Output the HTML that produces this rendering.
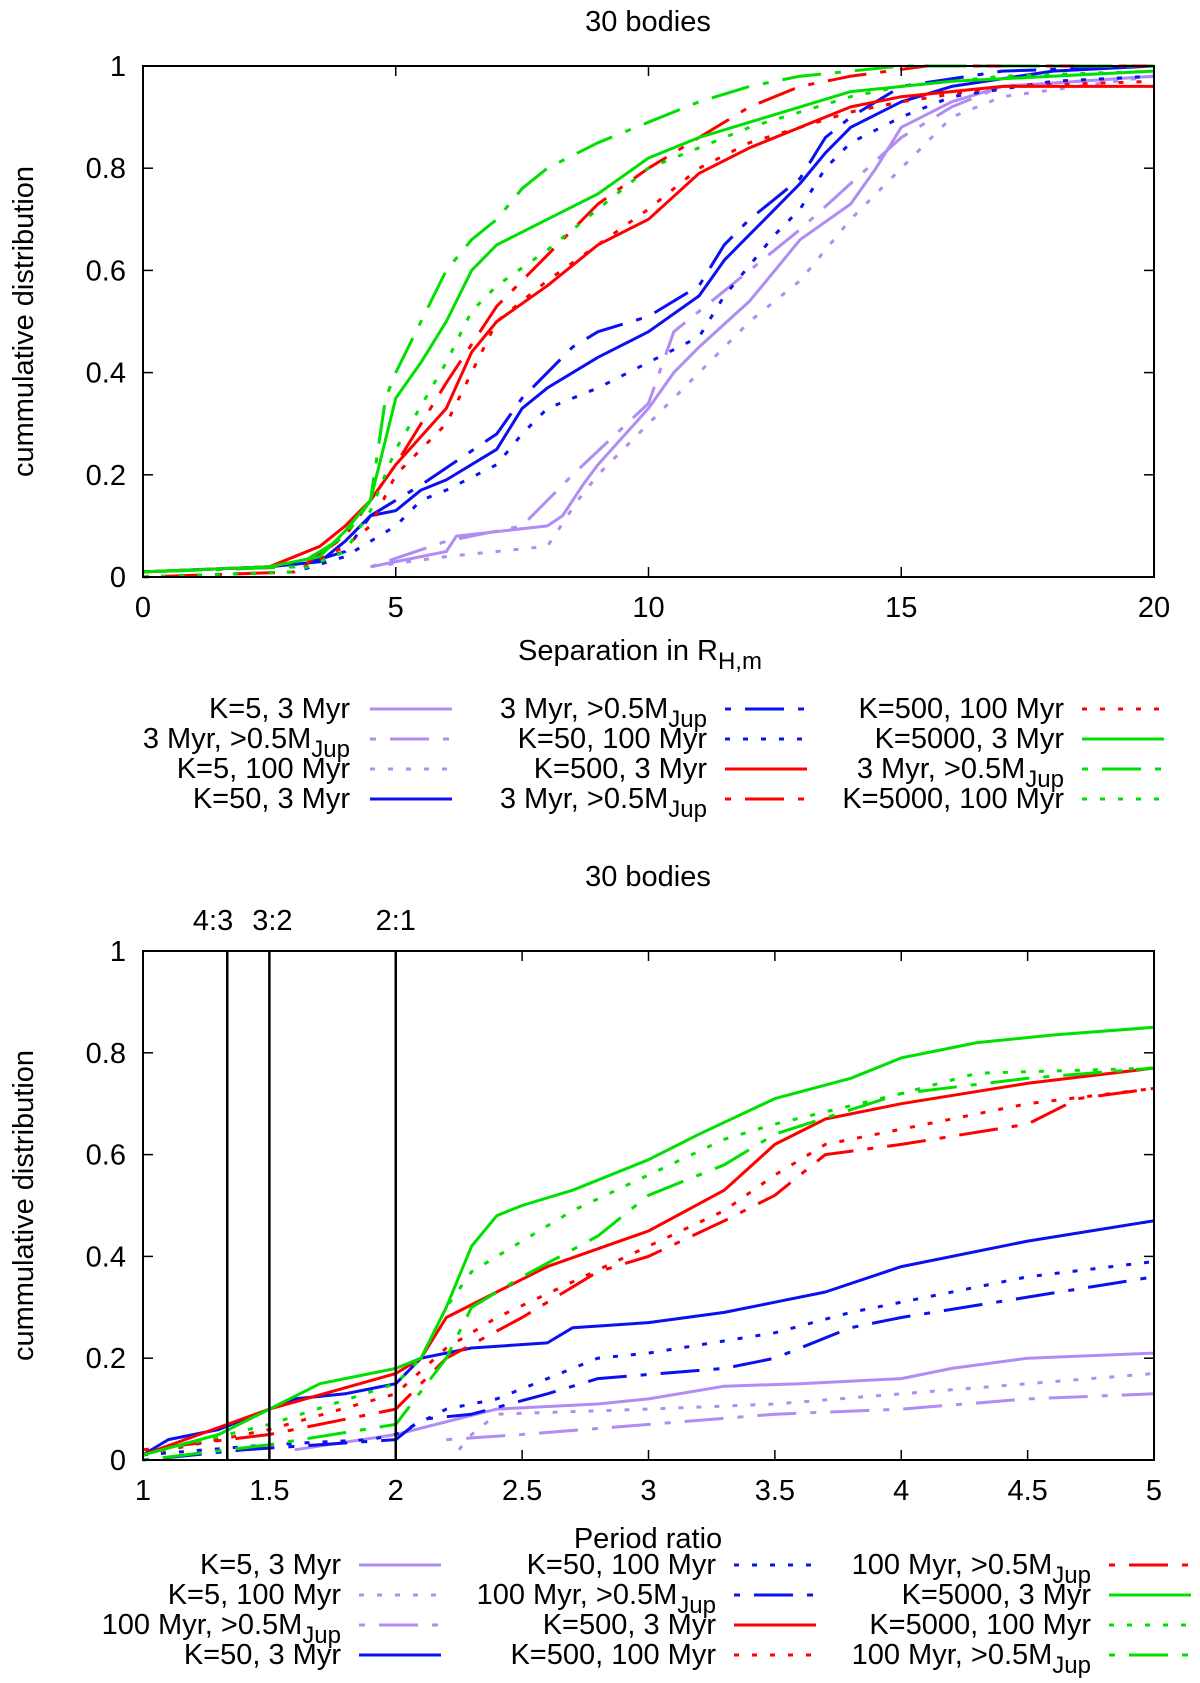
<!DOCTYPE html>
<html><head><meta charset="utf-8"><style>
body{margin:0;background:#fff}
svg{display:block;font-family:"Liberation Sans",sans-serif}
text{fill:#000}
</style></head><body>
<svg id="chart" width="1200" height="1683" viewBox="0 0 1200 1683" xmlns="http://www.w3.org/2000/svg"></svg>
<script>
// ---------- TOP PANEL DATA (separation in R_H,m) ----------
const topXTicks=[0,5,10,15,20];
const topYTicks=[0,0.2,0.4,0.6,0.8,1];
const topYTickLabels=["0","0.2","0.4","0.6","0.8","1"];
const t_p5_3_x=[4.5,6,6.2,8,8.3,8.7,9,10,10.5,11,12,12.5,13,14,14.5,15,16,17,20];
const t_p5_3_y=[0.02,0.05,0.08,0.1,0.12,0.18,0.22,0.33,0.4,0.45,0.54,0.6,0.66,0.73,0.8,0.88,0.93,0.96,0.98];
const t_p5_3m_x=[4.5,6,7.5,8.5,10,10.5,11,12,13,14,15,16,17,20];
const t_p5_3m_y=[0.02,0.07,0.1,0.2,0.34,0.48,0.52,0.6,0.68,0.77,0.86,0.92,0.96,0.98];
const t_p5_100_x=[4.5,6,8,8.6,9,10,11,12,13,14,15,16,17,20];
const t_p5_100_y=[0.02,0.04,0.06,0.15,0.2,0.3,0.4,0.5,0.58,0.7,0.8,0.9,0.94,0.98];
const t_b50_3_x=[0,2.5,3.5,4,4.5,5,5.5,6,7,7.5,8,9,10,11,11.5,12,12.5,13,13.5,14,15,16,18,20];
const t_b50_3_y=[0.01,0.02,0.03,0.07,0.12,0.13,0.17,0.19,0.25,0.33,0.37,0.43,0.48,0.55,0.62,0.67,0.72,0.77,0.83,0.88,0.93,0.96,0.99,1];
const t_b50_3m_x=[0,3,4,4.5,5.5,7,7.5,8,8.5,9,10,11,11.5,12,12.5,13,13.5,14,15,17,20];
const t_b50_3m_y=[0.01,0.02,0.05,0.12,0.18,0.28,0.35,0.4,0.45,0.48,0.51,0.57,0.65,0.7,0.74,0.78,0.86,0.9,0.96,0.99,1];
const t_b50_100_x=[0,3,4,5,5.5,6,7,7.5,8,9,10,11,11.5,12,12.5,13,13.5,14,15,16,18,20];
const t_b50_100_y=[0,0.01,0.04,0.1,0.15,0.17,0.22,0.28,0.33,0.37,0.42,0.47,0.55,0.61,0.67,0.72,0.8,0.85,0.9,0.94,0.97,0.98];
const t_r500_3_x=[0,2.5,3.5,4,4.5,5,6,6.5,7,8,9,10,11,12,13,14,15,17,20];
const t_r500_3_y=[0.01,0.02,0.06,0.1,0.15,0.22,0.33,0.44,0.5,0.57,0.65,0.7,0.79,0.84,0.88,0.92,0.94,0.96,0.96];
const t_r500_3m_x=[0,3,4,4.5,5,6,7,8,9,10,11,12,13,14,15.5,20];
const t_r500_3m_y=[0,0.01,0.08,0.15,0.22,0.38,0.53,0.63,0.73,0.8,0.86,0.92,0.96,0.98,1,1];
const t_r500_100_x=[0,3,4,4.5,5,6,6.5,7,8,9,10,11,12,13,14,15,17,20];
const t_r500_100_y=[0,0.01,0.06,0.1,0.2,0.3,0.4,0.5,0.58,0.65,0.72,0.8,0.85,0.88,0.91,0.93,0.96,0.97];
const t_g5000_3_x=[0,2.5,3.5,4,4.5,5,5.5,6,6.5,7,8,9,10,11,12,13,14,16,20];
const t_g5000_3_y=[0.01,0.02,0.04,0.09,0.15,0.35,0.42,0.5,0.6,0.65,0.7,0.75,0.82,0.86,0.89,0.92,0.95,0.97,0.99];
const t_g5000_3m_x=[0,3,4,4.5,4.8,5,5.5,6,6.5,7,7.5,8,9,10,11,12,13,15,20];
const t_g5000_3m_y=[0.01,0.02,0.08,0.15,0.35,0.4,0.5,0.6,0.66,0.7,0.76,0.8,0.85,0.89,0.93,0.96,0.98,1,1];
const t_g5000_100_x=[0,3,4,4.5,5,6,6.5,7,8,9,10,11,12,13,14,15,17,20];
const t_g5000_100_y=[0,0.01,0.05,0.13,0.25,0.42,0.52,0.57,0.64,0.72,0.8,0.84,0.88,0.91,0.94,0.96,0.98,0.99];

// ---------- BOTTOM PANEL DATA (period ratio) ----------
const botXTicks=[1,1.5,2,2.5,3,3.5,4,4.5,5];
const botXTickLabels=["1","1.5","2","2.5","3","3.5","4","4.5","5"];
const resonances=[4/3,1.5,2];
const resonanceLabels=["4:3","3:2","2:1"];
const b_p5_3_x=[1.6,2,2.4,2.8,3,3.3,3.6,4,4.2,4.5,5];
const b_p5_3_y=[0.02,0.05,0.1,0.11,0.12,0.145,0.15,0.16,0.18,0.2,0.21];
const b_p5_100_x=[2.25,2.3,2.4,3,3.5,4,4.5,5];
const b_p5_100_y=[0.02,0.05,0.09,0.1,0.11,0.13,0.15,0.17];
const b_p5_100m_x=[2.2,2.5,3,3.5,4,4.5,5];
const b_p5_100m_y=[0.04,0.05,0.07,0.09,0.1,0.12,0.13];
const b_b50_3_x=[1,1.1,1.3,1.5,1.6,1.8,2,2.1,2.3,2.6,2.7,3,3.3,3.5,3.7,4,4.5,5];
const b_b50_3_y=[0.01,0.04,0.06,0.1,0.12,0.13,0.15,0.2,0.22,0.23,0.26,0.27,0.29,0.31,0.33,0.38,0.43,0.47];
const b_b50_100_x=[1,1.5,1.9,2,2.2,2.4,2.6,2.8,3,3.5,3.8,4,4.5,5];
const b_b50_100_y=[0.01,0.03,0.04,0.05,0.1,0.12,0.16,0.2,0.21,0.25,0.29,0.31,0.36,0.39];
const b_b50_100m_x=[1,1.4,2,2.1,2.3,2.6,2.8,3.3,3.5,3.8,4,4.5,5];
const b_b50_100m_y=[0,0.02,0.04,0.08,0.09,0.13,0.16,0.18,0.2,0.26,0.28,0.32,0.36];
const b_r500_3_x=[1,1.5,2,2.1,2.2,2.4,2.6,3,3.3,3.5,3.7,4,4.5,5];
const b_r500_3_y=[0.01,0.1,0.17,0.2,0.28,0.33,0.38,0.45,0.53,0.62,0.67,0.7,0.74,0.77];
const b_r500_100_x=[1,1.5,2,2.2,2.4,2.7,3,3.3,3.5,3.7,4,4.5,5];
const b_r500_100_y=[0.01,0.06,0.13,0.22,0.28,0.35,0.42,0.49,0.56,0.62,0.65,0.7,0.73];
const b_r500_100m_x=[1,1.5,2,2.2,2.5,2.8,3,3.3,3.5,3.7,4,4.5,4.7,5];
const b_r500_100m_y=[0.02,0.05,0.1,0.2,0.28,0.37,0.4,0.47,0.52,0.6,0.62,0.66,0.71,0.73];
const b_g5000_3_x=[1,1.3,1.5,1.7,2,2.1,2.2,2.3,2.4,2.5,2.7,3,3.2,3.5,3.8,4,4.3,4.6,5];
const b_g5000_3_y=[0.01,0.05,0.1,0.15,0.18,0.2,0.3,0.42,0.48,0.5,0.53,0.59,0.64,0.71,0.75,0.79,0.82,0.835,0.85];
const b_g5000_100_x=[1,1.5,2,2.1,2.2,2.3,2.5,2.7,3,3.3,3.5,4,4.3,5];
const b_g5000_100_y=[0.01,0.07,0.15,0.2,0.3,0.37,0.43,0.49,0.56,0.63,0.66,0.72,0.76,0.77];
const b_g5000_100m_x=[1,1.5,2,2.2,2.3,2.5,2.8,3,3.3,3.5,4,4.5,5];
const b_g5000_100m_y=[0,0.03,0.07,0.2,0.3,0.36,0.44,0.52,0.58,0.64,0.72,0.75,0.77];

const PURPLE="#b08cf4",BLUE="#0a10f0",RED="#ff0000",GREEN="#00e000";
const SOLID="",DASHDOT="6 14 39 14",DOT="5 13";
const FS=29,SUBFS=24;
const NS="http://www.w3.org/2000/svg";
const svg=document.getElementById('chart');
function mk(tag,attrs,parent){const e=document.createElementNS(NS,tag);for(const k in attrs)e.setAttribute(k,attrs[k]);(parent||svg).appendChild(e);return e;}
function txt(s,x,y,anchor,size,name,parent){const t=mk('text',{x:x,y:y,'text-anchor':anchor||'middle','font-size':size||FS},parent);

t.textContent=s;return t;}
function richLabel(s,x,y,name,parent){
  const t=mk('text',{x:x,y:y,'text-anchor':'end','font-size':FS},parent);
  
  
  if(s.endsWith('Jup')){const a=mk('tspan',{},t);a.textContent=s.slice(0,-3);const b=mk('tspan',{dy:9,'font-size':SUBFS},t);b.textContent='Jup';}
  else t.textContent=s;
}
const L=143,R=1154;
function panel(o){
  const g=mk('g',{});
  
  
  const sx=v=>L+(v-o.xmin)/(o.xmax-o.xmin)*(R-L);
  const sy=v=>o.B-v*(o.B-o.T);
  o.series.forEach(s=>{
    const d=s.x.map((v,i)=>(i?'L':'M')+sx(v).toFixed(1)+' '+sy(s.y[i]).toFixed(1)).join(' ');
    const p=mk('path',{d:d,fill:'none',stroke:s.c,'stroke-width':3,'stroke-dasharray':s.dash||'none','stroke-linejoin':'round'},g);
    
    
  });
  if(o.res){o.res.forEach((r,i)=>{const ln=mk('line',{x1:sx(r),x2:sx(r),y1:o.T,y2:o.B,stroke:'#000','stroke-width':2.5},g);
    
    });
    txt("4:3",sx(o.res[0])+6,930,'end',FS,'resonance-label-4-3',g);
    txt("3:2",sx(o.res[1])+3,930,'middle',FS,'resonance-label-3-2',g);
    txt("2:1",sx(o.res[2]),930,'middle',FS,'resonance-label-2-1',g);}
  const f=mk('rect',{x:L,y:o.T,width:R-L,height:o.B-o.T,fill:'none',stroke:'#000','stroke-width':2},g);
  
  
  o.xt.forEach((v,i)=>{const X=sx(v);mk('line',{x1:X,x2:X,y1:o.B,y2:o.B-10,stroke:'#000','stroke-width':1.5},g);mk('line',{x1:X,x2:X,y1:o.T,y2:o.T+10,stroke:'#000','stroke-width':1.5},g);
    txt(o.xl[i],X,o.B+40,'middle',FS,'x-tick-label',g);});
  topYTicks.forEach((v,i)=>{const Y=sy(v);mk('line',{x1:L,x2:L+10,y1:Y,y2:Y,stroke:'#000','stroke-width':1.5},g);mk('line',{x1:R,x2:R-10,y1:Y,y2:Y,stroke:'#000','stroke-width':1.5},g);
    txt(topYTickLabels[i],126,Y+10,'end',FS,'y-tick-label',g);});
  txt('30 bodies',648,o.titleY,'middle',FS,'chart-title',g);
  const yl=txt('cummulative distribution',0,0,'middle',FS,'y-axis-title',g);
  yl.setAttribute('transform','translate(33,'+((o.T+o.B)/2)+') rotate(-90)');
  o.series.forEach((s,i)=>{const col=Math.floor(i/4),row=i%4;const c=o.cols[col];const y=o.legY+row*30;
    richLabel(s.label,c[0],y,'legend-label',g);
    const ln=mk('line',{x1:c[1],x2:c[1]+82,y1:y-9,y2:y-9,stroke:s.c,'stroke-width':3,'stroke-dasharray':s.dash||'none'},g);
    
    });
}
const tx=topXTicks.map(String);
panel({name:'top-panel',xmin:0,xmax:20,T:66,B:577,xt:topXTicks,xl:tx,titleY:31,legY:718,
 cols:[[350,370],[707,725],[1064,1082]],
 series:[
 {name:'series-k5-3myr',x:t_p5_3_x,y:t_p5_3_y,c:PURPLE,dash:SOLID,label:'K=5, 3 Myr'},
 {name:'series-k5-3myr-massive',x:t_p5_3m_x,y:t_p5_3m_y,c:PURPLE,dash:DASHDOT,label:'3 Myr, >0.5MJup'},
 {name:'series-k5-100myr',x:t_p5_100_x,y:t_p5_100_y,c:PURPLE,dash:DOT,label:'K=5, 100 Myr'},
 {name:'series-k50-3myr',x:t_b50_3_x,y:t_b50_3_y,c:BLUE,dash:SOLID,label:'K=50, 3 Myr'},
 {name:'series-k50-3myr-massive',x:t_b50_3m_x,y:t_b50_3m_y,c:BLUE,dash:DASHDOT,label:'3 Myr, >0.5MJup'},
 {name:'series-k50-100myr',x:t_b50_100_x,y:t_b50_100_y,c:BLUE,dash:DOT,label:'K=50, 100 Myr'},
 {name:'series-k500-3myr',x:t_r500_3_x,y:t_r500_3_y,c:RED,dash:SOLID,label:'K=500, 3 Myr'},
 {name:'series-k500-3myr-massive',x:t_r500_3m_x,y:t_r500_3m_y,c:RED,dash:DASHDOT,label:'3 Myr, >0.5MJup'},
 {name:'series-k500-100myr',x:t_r500_100_x,y:t_r500_100_y,c:RED,dash:DOT,label:'K=500, 100 Myr'},
 {name:'series-k5000-3myr',x:t_g5000_3_x,y:t_g5000_3_y,c:GREEN,dash:SOLID,label:'K=5000, 3 Myr'},
 {name:'series-k5000-3myr-massive',x:t_g5000_3m_x,y:t_g5000_3m_y,c:GREEN,dash:DASHDOT,label:'3 Myr, >0.5MJup'},
 {name:'series-k5000-100myr',x:t_g5000_100_x,y:t_g5000_100_y,c:GREEN,dash:DOT,label:'K=5000, 100 Myr'}]});
const xt1=txt('Separation in R',640,660,'middle',FS,'x-axis-title');
const sub=mk('tspan',{dy:9,'font-size':SUBFS},xt1);sub.textContent='H,m';
panel({name:'bottom-panel',xmin:1,xmax:5,T:951,B:1460,xt:botXTicks,xl:botXTickLabels,titleY:886,legY:1574,
 res:resonances,resLab:resonanceLabels,
 cols:[[341,359],[716,734],[1091,1109]],
 series:[
 {name:'series-k5-3myr',x:b_p5_3_x,y:b_p5_3_y,c:PURPLE,dash:SOLID,label:'K=5, 3 Myr'},
 {name:'series-k5-100myr',x:b_p5_100_x,y:b_p5_100_y,c:PURPLE,dash:DOT,label:'K=5, 100 Myr'},
 {name:'series-k5-100myr-massive',x:b_p5_100m_x,y:b_p5_100m_y,c:PURPLE,dash:DASHDOT,label:'100 Myr, >0.5MJup'},
 {name:'series-k50-3myr',x:b_b50_3_x,y:b_b50_3_y,c:BLUE,dash:SOLID,label:'K=50, 3 Myr'},
 {name:'series-k50-100myr',x:b_b50_100_x,y:b_b50_100_y,c:BLUE,dash:DOT,label:'K=50, 100 Myr'},
 {name:'series-k50-100myr-massive',x:b_b50_100m_x,y:b_b50_100m_y,c:BLUE,dash:DASHDOT,label:'100 Myr, >0.5MJup'},
 {name:'series-k500-3myr',x:b_r500_3_x,y:b_r500_3_y,c:RED,dash:SOLID,label:'K=500, 3 Myr'},
 {name:'series-k500-100myr',x:b_r500_100_x,y:b_r500_100_y,c:RED,dash:DOT,label:'K=500, 100 Myr'},
 {name:'series-k500-100myr-massive',x:b_r500_100m_x,y:b_r500_100m_y,c:RED,dash:DASHDOT,label:'100 Myr, >0.5MJup'},
 {name:'series-k5000-3myr',x:b_g5000_3_x,y:b_g5000_3_y,c:GREEN,dash:SOLID,label:'K=5000, 3 Myr'},
 {name:'series-k5000-100myr',x:b_g5000_100_x,y:b_g5000_100_y,c:GREEN,dash:DOT,label:'K=5000, 100 Myr'},
 {name:'series-k5000-100myr-massive',x:b_g5000_100m_x,y:b_g5000_100m_y,c:GREEN,dash:DASHDOT,label:'100 Myr, >0.5MJup'}]});
txt('Period ratio',648,1548,'middle',FS,'x-axis-title-bottom');
</script>
</body></html>
